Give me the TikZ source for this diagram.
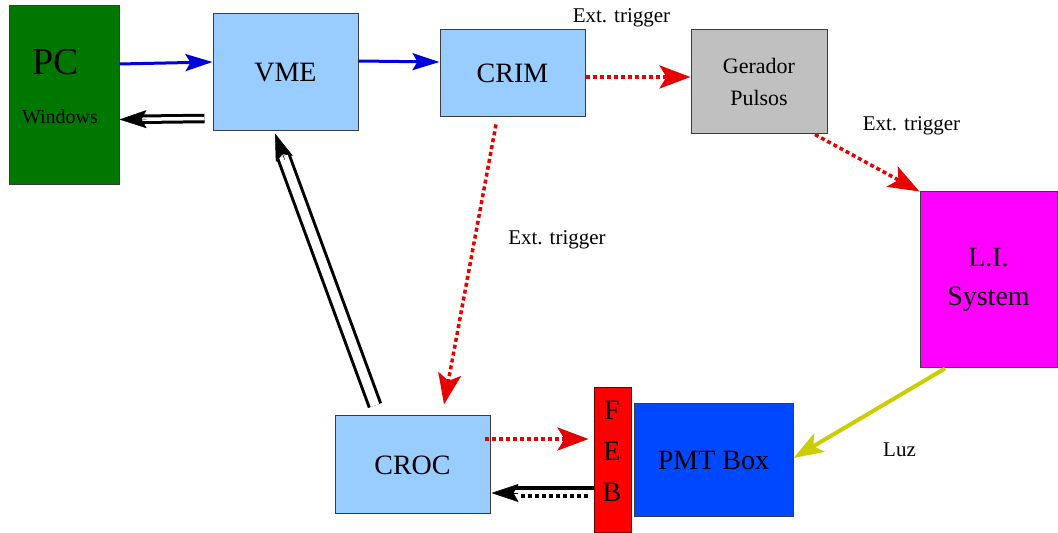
\documentclass[tikz,border=0pt]{standalone}
\usepackage{fontspec}
\setmainfont{Liberation Serif}
\usetikzlibrary{arrows.meta,calc}
\definecolor{pcgreen}{RGB}{0,120,0}
\definecolor{lblue}{RGB}{153,204,255}
\definecolor{ggray}{RGB}{192,192,192}
\definecolor{lmag}{RGB}{255,0,255}
\definecolor{pmtblue}{RGB}{0,72,255}
\definecolor{febred}{RGB}{255,0,0}
\definecolor{aBlue}{RGB}{0,0,220}
\definecolor{aRed}{RGB}{230,0,0}
\definecolor{aYel}{RGB}{204,204,0}
\definecolor{bord}{RGB}{60,60,60}
\tikzset{
  box/.style={draw=bord, line width=1pt, inner sep=0pt, align=center,
    font=\fontsize{28}{32}\selectfont},
  lbl/.style={inner sep=0pt, anchor=base, font=\fontsize{21}{25}\selectfont},
  blueline/.style={draw=aBlue, line width=3pt,
    -{Stealth[length=27pt,width=17pt,inset=5pt]}},
  reddot/.style={draw=aRed, line width=3.5pt, dash pattern=on 4pt off 3pt,
    -{Stealth[length=31pt,width=23pt,inset=7pt]}},
  blackdot/.style={draw=black, line width=3.5pt, dash pattern=on 4pt off 3pt},
  yelline/.style={draw=aYel, line width=4pt,
    -{Stealth[length=30pt,width=21pt,inset=7pt]}},
  dbl/.style={draw=black, double=white, line width=3pt},
  blackhead/.style={draw=black, line width=0.5pt,
    -{Stealth[length=27pt,width=18pt,inset=5pt]}}
}
\begin{document}
\begin{tikzpicture}[x=1pt,y=1pt]
\useasboundingbox (0,0) rectangle (1058,533);
% boxes
\node[box, fill=pcgreen, minimum width=110pt, minimum height=179pt] (PC) at (64,437.5) {};
\node[inner sep=0pt, font=\fontsize{38}{40}\selectfont] (pclbl) at (56,471) {PC};
\node[inner sep=0pt, font=\fontsize{20}{24}\selectfont] (winlbl) at (60,416) {Windows};
\node[box, fill=lblue, minimum width=145pt, minimum height=117pt] (VME) at (285.5,460.5) {VME};
\node[box, fill=lblue, minimum width=145pt, minimum height=87pt] (CRIM) at (512.5,459.5) {CRIM};
\node[box, fill=ggray, minimum width=136pt, minimum height=104pt,
  font=\fontsize{22}{32}\selectfont] (GP) at (759,451) {Gerador\\Pulsos};
\node[box, fill=lmag, minimum width=137pt, minimum height=176pt,
  font=\fontsize{28}{39}\selectfont] (LI) at (988.5,253) {L.I.\\System};
\node[box, fill=pmtblue, minimum width=159pt, minimum height=113pt] (PMT) at (713.5,72.5) {PMT Box};
\node[box, fill=febred, draw=red!45!black, minimum width=37pt, minimum height=145pt] (FEB) at (612.5,72.5) {};
\node[inner sep=0pt, align=center, font=\fontsize{28}{41}\selectfont] (febtxt) at (612,81.25) {F\\E\\B};
\node[box, fill=lblue, minimum width=155pt, minimum height=98pt] (CROC) at (412.5,68) {CROC};
% labels
\node[lbl] (t1) at (621.5,510) {Ext. trigger};
\node[lbl] (t2) at (911.5,402) {Ext. trigger};
\node[lbl] (t3) at (557,288) {Ext. trigger};
\node[lbl] (luz) at (899.5,76) {Luz};
% connector end points
\coordinate (pcA) at ([yshift=31.5pt]PC.east);
\coordinate (vmeA) at ([yshift=10.5pt]VME.west);
\coordinate (vmeB) at ([yshift=11.5pt]VME.east);
\coordinate (crimA) at ([yshift=11.5pt]CRIM.west);
\coordinate (vmeL) at ([xshift=-8pt,yshift=-46pt]VME.west);
\coordinate (pcB) at ([yshift=-24pt]PC.east);
\coordinate (crimR) at ([yshift=-3.5pt]CRIM.east);
\coordinate (gpL) at ([yshift=5pt]GP.west);
\coordinate (gpB) at ([xshift=56pt]GP.south);
\coordinate (liT) at (LI.north west);
\coordinate (crimB) at ([xshift=-16.5pt,yshift=-7pt]CRIM.south);
\coordinate (crocT) at ([xshift=31.5pt,yshift=11pt]CROC.north);
\coordinate (crocU) at ([xshift=-37.5pt,yshift=10pt]CROC.north);
\coordinate (vmeD) at ([xshift=-10.5pt,yshift=-2pt]VME.south);
\coordinate (crocR) at ([xshift=-6pt,yshift=26pt]CROC.east);
\coordinate (febL) at ([xshift=-5pt,yshift=21.5pt]FEB.west);
\coordinate (febS) at ([yshift=-27.5pt]FEB.west);
\coordinate (crocS) at ([xshift=24pt,yshift=-23pt]CROC.east);
\coordinate (febD) at ([xshift=-6pt,yshift=-35.5pt]FEB.west);
\coordinate (crocD) at ([xshift=28pt,yshift=-31pt]CROC.east);
\coordinate (crocH) at ([xshift=27pt,yshift=-28pt]CROC.east);
\coordinate (crocTip) at ([xshift=1pt,yshift=-28pt]CROC.east);
\coordinate (liB) at ([xshift=-43.5pt]LI.south);
\coordinate (pmtR) at ([yshift=2.5pt]PMT.east);
% connectors
\draw[blueline] (pcA) -- (vmeA);
\draw[blueline] (vmeB) -- (crimA);
\draw[dbl, double distance=3.5pt, shorten >=22pt] (vmeL) -- (pcB);
\draw[blackhead] ($(pcB)!27pt!(vmeL)$) -- (pcB);
\draw[reddot] (crimR) -- (gpL);
\draw[reddot] (gpB) -- (liT);
\draw[reddot] (crimB) -- (crocT);
\draw[dbl, double distance=9pt, shorten >=24pt] (crocU) -- (vmeD);
\draw[blackhead] ($(vmeD)!28pt!(crocU)$) -- (vmeD);
\draw[reddot] (crocR) -- (febL);
\draw[draw=black, line width=3.5pt] (febS) -- (crocS);
\draw[blackdot] (febD) -- (crocD);
\draw[blackhead] (crocH) -- (crocTip);
\draw[yelline] (liB) -- (pmtR);
\end{tikzpicture}
\end{document}
